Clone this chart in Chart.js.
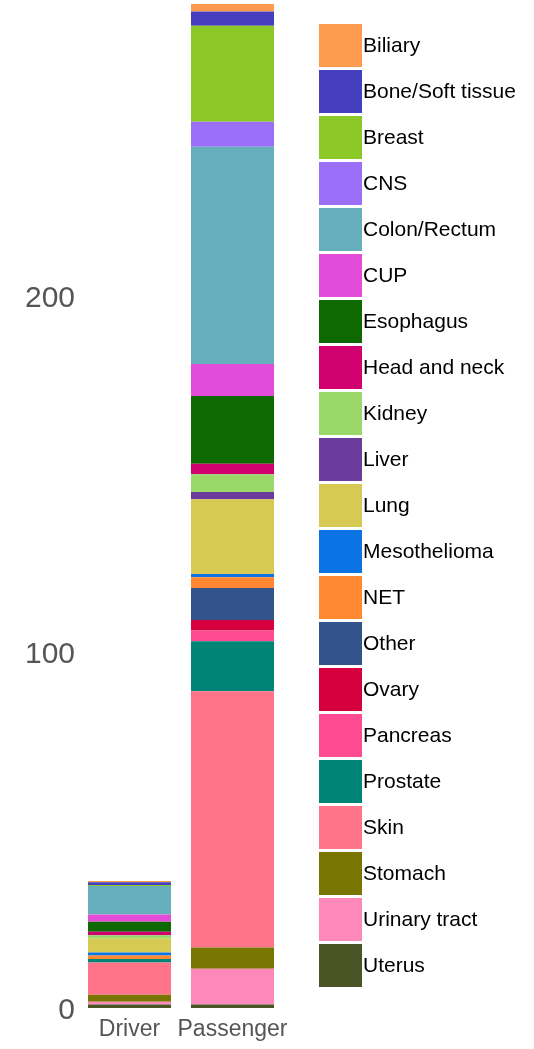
<!DOCTYPE html>
<html>
<head>
<meta charset="utf-8">
<script src="https://cdn.jsdelivr.net/npm/chart.js@4/dist/chart.umd.min.js"></script>
<style>
    html, body { margin: 0; padding: 0; background: #fff; }
    canvas { display: block; }
</style>
</head>
<body>
<canvas id="mutChart" width="534" height="1049"></canvas>
<script>
const categories = ['Driver', 'Passenger'];

const tumourTypes = [
    'Biliary', 'Bone/Soft tissue', 'Breast', 'CNS', 'Colon/Rectum', 'CUP',
    'Esophagus', 'Head and neck', 'Kidney', 'Liver', 'Lung', 'Mesothelioma',
    'NET', 'Other', 'Ovary', 'Pancreas', 'Prostate', 'Skin', 'Stomach',
    'Urinary tract', 'Uterus'
];

const driverCounts = [0.3, 0.8, 0.3, 0, 8, 2, 2.8, 1, 1, 0, 3.85, 0.85, 1, 0, 0, 0, 1, 9, 2, 0.75, 1];
const passengerCounts = [2.2, 4, 27, 7, 61, 9, 19, 3, 5, 2, 21, 0.9, 3, 9, 3, 3, 14, 72, 6, 10, 1];

const typeColors = [
    '#FF9B4F', '#453FBF', '#8CC827', '#9B6FF8', '#68AFBE', '#E24CD9',
    '#0F6902', '#D1006F', '#9AD86A', '#6B3C9C', '#D6CA54', '#0B73E3',
    '#FF8830', '#33538D', '#D6003E', '#FF4B91', '#008476', '#FF7489',
    '#787500', '#FF88BB', '#4A5526'
];

const yTicks = [0, 100, 200];
const yMax = 282;

const FONT = "'Liberation Sans', Arial, sans-serif";

// first dataset sits at the bottom of the stack, so go from Uterus up to Biliary
const datasets = tumourTypes.map((name, i) => ({
    label: name,
    data: [driverCounts[i], passengerCounts[i]],
    backgroundColor: typeColors[i],
    borderWidth: 0,
    barPercentage: 0.806,
    categoryPercentage: 1.0
})).reverse();

// legend drawn by hand, boxes with text right beside them
const sideLegend = {
    id: 'sideLegend',
    afterDraw(chart) {
        const ctx = chart.ctx;
        ctx.save();
        ctx.font = '21px ' + FONT;
        ctx.textBaseline = 'middle';
        ctx.textAlign = 'left';
        tumourTypes.forEach((name, i) => {
            const y = 24 + i * 46;
            ctx.fillStyle = typeColors[i];
            ctx.fillRect(319, y, 43, 43);
            ctx.fillStyle = '#000';
            ctx.fillText(name, 363, y + 22.5);
        });
        ctx.restore();
    }
};

const config = {
    type: 'bar',
    data: {
        labels: categories,
        datasets
    },
    options: {
        responsive: false,
        animation: false,
        devicePixelRatio: 1,
        layout: {
            padding: { top: 4, right: 250, left: 0, bottom: 0 }
        },
        plugins: {
            legend: { display: false },
            tooltip: { enabled: false }
        },
        scales: {
            x: {
                stacked: true,
                grid: { display: false, drawTicks: false },
                border: { display: false },
                ticks: {
                    color: '#555',
                    font: { family: FONT, size: 23 },
                    padding: 8,
                    maxRotation: 0,
                    minRotation: 0,
                    autoSkip: false
                },
                afterFit(scale) {
                    scale.height = 41;
                    scale.paddingLeft = 0;
                    scale.paddingRight = 0;
                }
            },
            y: {
                stacked: true,
                min: 0,
                max: yMax,
                grid: { display: false, drawTicks: false },
                border: { display: false },
                ticks: {
                    color: '#555',
                    font: { family: FONT, size: 30 },
                    padding: 3,
                    labelOffset: 3
                },
                afterBuildTicks(scale) {
                    scale.ticks = yTicks.map(v => ({ value: v }));
                },
                afterFit(scale) {
                    scale.width = 78;
                    scale.paddingTop = 0;
                    scale.paddingBottom = 0;
                }
            }
        }
    },
    plugins: [sideLegend]
};

const myChart = new Chart(document.getElementById('mutChart'), config);
</script>
</body>
</html>
